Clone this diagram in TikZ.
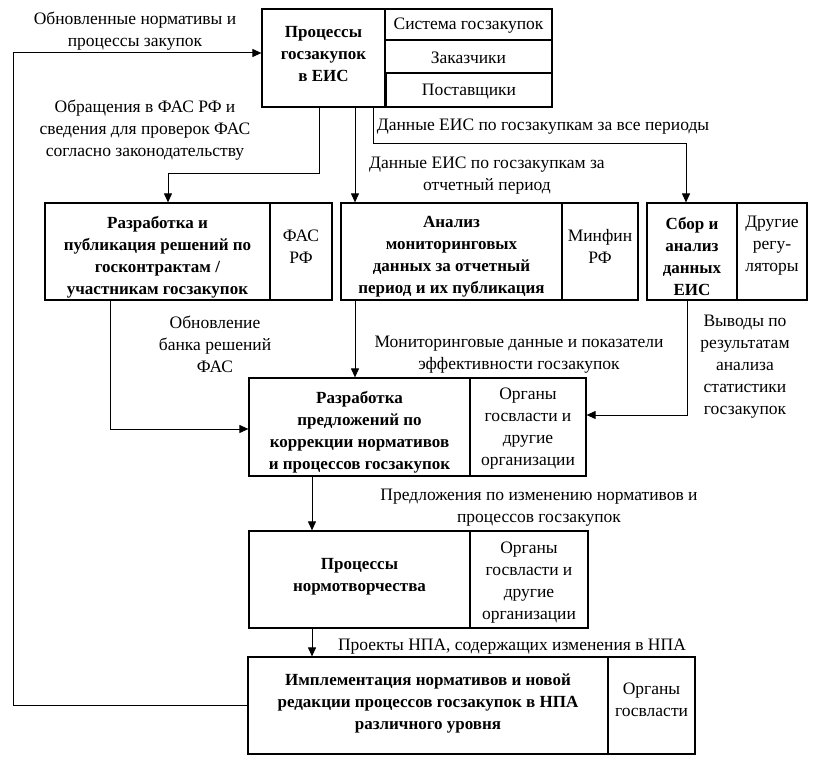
\documentclass[tikz,border=0pt]{standalone}
\usepackage{fontspec}
\setmainfont{Liberation Serif}
\usetikzlibrary{arrows.meta}
\begin{document}
\begin{tikzpicture}[x=1pt,y=-1pt,
  every node/.style={font=\fontsize{17.5}{22}\selectfont},
  box/.style={draw,line width=1.2pt,inner sep=0pt},
  btext/.style={align=center,inner sep=0pt,font=\fontsize{17}{22}\selectfont\bfseries},
  stext/.style={align=center,inner sep=0pt},
  sbox/.style={draw,line width=1.2pt,inner sep=0pt,align=center},
  lbl/.style={align=center,inner sep=0pt},
  arr/.style={line width=1pt,-{Triangle[length=9pt,width=8pt]}}]
\useasboundingbox (0,0) rectangle (814,760);
% top
\node[box,minimum width=123pt,minimum height=98pt] (top) at (323.5,58) {};
\node[btext] (topt) at ([yshift=3.5pt]top.center) {Процессы\\госзакупок\\в ЕИС};
\node[sbox,minimum width=167pt,minimum height=31pt] (sys) at (468.5,24.5) {};
\node[stext] (syst) at ([yshift=-1.5pt]sys.center) {Система госзакупок};
\node[sbox,minimum width=167pt,minimum height=33pt] (zak) at (468.5,56.5) {};
\node[stext] (zakt) at ([yshift=-1pt]zak.center) {Заказчики};
\node[sbox,minimum width=166pt,minimum height=34pt] (post) at (469,90) {};
\node[stext] (postt) at ([yshift=-1.5pt]post.center) {Поставщики};
% row 2
\node[box,minimum width=225pt,minimum height=97pt] (A) at (157.5,251.5) {};
\node[btext] (At) at ([yshift=-5.5pt]A.center) {Разработка и\\публикация решений по\\госконтрактам /\\участникам госзакупок};
\node[box,minimum width=62pt,minimum height=97pt] (As) at (301,251.5) {};
\node[stext] (Ast) at ([yshift=5pt]As.center) {ФАС\\РФ};
\node[box,minimum width=221pt,minimum height=97pt] (B) at (451.5,251.5) {};
\node[btext] (Bt) at ([yshift=-5.5pt]B.center) {Анализ\\мониторинговых\\данных за отчетный\\период и их публикация};
\node[box,minimum width=76pt,minimum height=97pt] (Bs) at (600,251.5) {};
\node[stext] (Bst) at ([yshift=5pt]Bs.center) {Минфин\\РФ};
\node[box,minimum width=90pt,minimum height=97pt] (C) at (692,251.5) {};
\node[btext] (Ct) at ([yshift=-5pt]C.center) {Сбор и\\анализ\\данных\\ЕИС};
\node[box,minimum width=70pt,minimum height=97pt] (Cs) at (772,251.5) {};
\node[stext] (Cst) at ([yshift=5.5pt]Cs.center) {Другие\\регу-\\ляторы};
% D
\node[box,minimum width=221pt,minimum height=98pt] (D) at (359.5,427) {};
\node[btext] (Dt) at ([yshift=-5.5pt]D.center) {Разработка\\предложений по\\коррекции нормативов\\и процессов госзакупок};
\node[box,minimum width=116pt,minimum height=98pt] (Ds) at (528,427) {};
\node[stext] (Dst) at ([yshift=-2pt]Ds.center) {Органы\\госвласти и\\другие\\организации};
% E
\node[box,minimum width=221pt,minimum height=97pt] (E) at (359.5,579.5) {};
\node[btext] (Et) at ([yshift=3pt]E.center) {Процессы\\нормотворчества};
\node[box,minimum width=118pt,minimum height=97pt] (Es) at (529,579.5) {};
\node[stext] (Est) at ([yshift=-3pt]Es.center) {Органы\\госвласти и\\другие\\организации};
% F
\node[box,minimum width=360pt,minimum height=97pt] (F) at (428,705.5) {};
\node[btext] (Ft) at ([yshift=2pt]F.center) {Имплементация нормативов и новой\\редакции процессов госзакупок в НПА\\различного уровня};
\node[box,minimum width=87pt,minimum height=97pt] (Fs) at (651.5,705.5) {};
\node[stext] (Fst) at ([yshift=6pt]Fs.center) {Органы\\госвласти};
% labels
\node[lbl] (l1) at (135,31) {Обновленные нормативы и\\процессы закупок};
\node[lbl] (l2) at (145,130) {Обращения в ФАС РФ и\\сведения для проверок ФАС\\согласно законодательству};
\node[lbl] (l3) at (543,127) {Данные ЕИС по госзакупкам за все периоды};
\node[lbl] (l4) at (487,176) {Данные ЕИС по госзакупкам за\\отчетный период};
\node[lbl] (l5) at (215,344) {Обновление\\банка решений\\ФАС};
\node[lbl] (l6) at (519,355) {Мониторинговые данные и показатели\\эффективности госзакупок};
\node[lbl] (l7) at (745,367) {Выводы по\\результатам\\анализа\\статистики\\госзакупок};
\node[lbl] (l8) at (539,508) {Предложения по изменению нормативов и\\процессов госзакупок};
\node[lbl] (l9) at (512,647) {Проекты НПА, содержащих изменения в НПА};
% connectors
\draw[arr] (F.west) -- ++(-234,0) |- ([yshift=5pt]top.west);
\draw[arr] ([xshift=-4.5pt]top.south) -- ++(0,66) -| ([xshift=10.5pt]A.north);
\draw[arr] ([xshift=31.5pt]top.south) -- ([xshift=31.5pt]top.south |- B.north);
\draw[arr] ([xshift=49.5pt]top.south) -- ++(0,36) -| ([xshift=-6pt]C.north);
\draw[arr] ([xshift=-47.5pt]A.south) |- ([yshift=-2pt]D.west);
\draw[arr] ([xshift=-96.5pt]B.south) -- ([xshift=-96.5pt]B.south |- D.north);
\draw[arr] ([xshift=-5pt]C.south) |- ([yshift=12pt]Ds.east);
\draw[arr] ([xshift=-47.5pt]D.south) -- ([xshift=-47.5pt]D.south |- E.north);
\draw[arr] ([xshift=-47.5pt]E.south) -- ([xshift=-47.5pt]E.south |- F.north);
\end{tikzpicture}
\end{document}
